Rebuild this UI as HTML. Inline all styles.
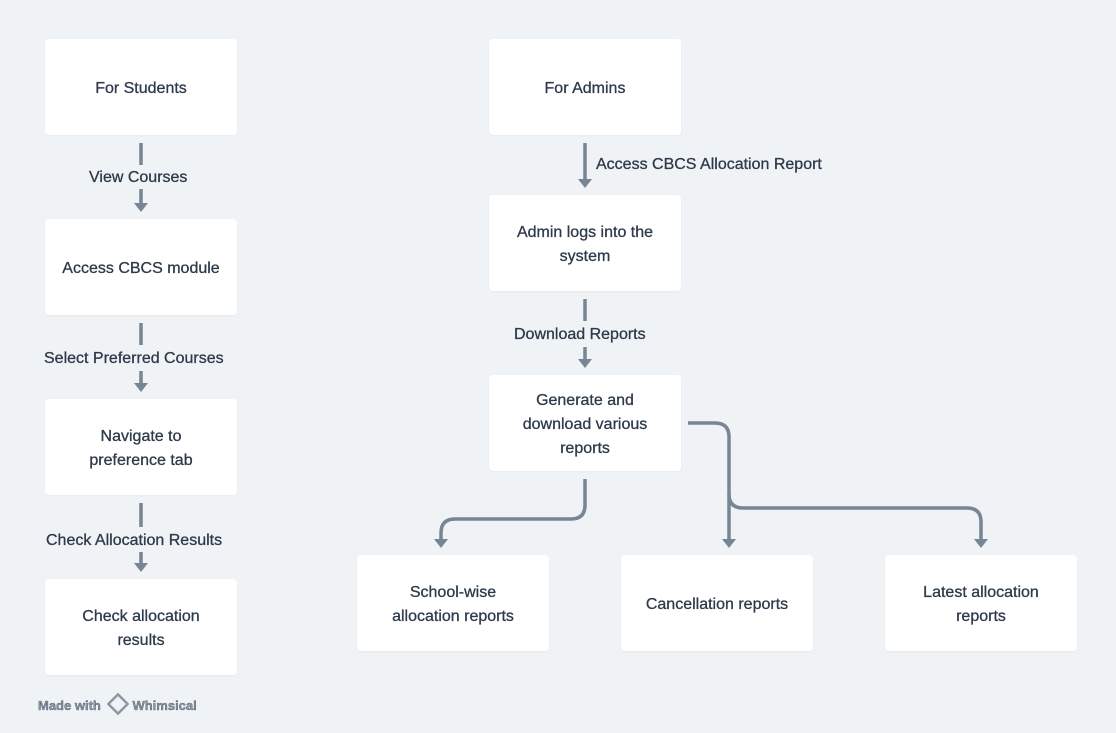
<!DOCTYPE html>
<html><head><style>
body{margin:0;width:1116px;height:733px;background:#f0f3f6;position:relative;overflow:hidden;font-family:"Liberation Sans",sans-serif;}
.b{position:absolute;width:192px;height:96px;padding-top:3px;box-sizing:border-box;background:#fff;border-radius:4px;display:flex;align-items:center;justify-content:center;text-align:center;color:#2d3a4a;font-size:16px;line-height:24px;box-shadow:0 1px 2px rgba(0,0,0,0.04);-webkit-text-stroke:0.3px #2d3a4a;}
.l{position:absolute;color:#2d3a4a;font-size:16px;white-space:nowrap;line-height:20px;-webkit-text-stroke:0.3px #2d3a4a;}
svg{position:absolute;left:0;top:0;}
</style></head><body>
<svg width="1116" height="733" fill="none" stroke="#778595" stroke-width="3.5">
<g stroke-linecap="butt">
<line x1="141" y1="143" x2="141" y2="165"/><line x1="141" y1="189" x2="141" y2="204"/>
<line x1="141" y1="323" x2="141" y2="345"/><line x1="141" y1="371" x2="141" y2="384"/>
<line x1="141" y1="503" x2="141" y2="527"/><line x1="141" y1="552" x2="141" y2="564"/>
<line x1="585" y1="143" x2="585" y2="180"/>
<line x1="585" y1="299" x2="585" y2="321"/><line x1="585" y1="347" x2="585" y2="360"/>
<path d="M585 479 V505 Q585 519 571 519 H455 Q441 519 441 533 V540"/>
<path d="M688 423 H715 Q729 423 729 437 V540"/>
<path d="M729 494 Q729 508 743 508 H967 Q981 508 981 522 V540"/>
</g>
<g fill="#778595" stroke="none">
<path d="M134 203 H148 L141 212Z"/><path d="M134 383 H148 L141 392Z"/><path d="M134 563 H148 L141 572Z"/>
<path d="M578 179 H592 L585 188Z"/><path d="M578 359 H592 L585 368Z"/>
<path d="M434 539 H448 L441 548Z"/><path d="M722 539 H736 L729 548Z"/><path d="M974 539 H988 L981 548Z"/>
</g>
</svg>
<div class="b" style="left:45px;top:39px">For Students</div>
<div class="b" style="left:45px;top:219px">Access CBCS module</div>
<div class="b" style="left:45px;top:399px">Navigate to<br>preference tab</div>
<div class="b" style="left:45px;top:579px">Check allocation<br>results</div>
<div class="b" style="left:489px;top:39px">For Admins</div>
<div class="b" style="left:489px;top:195px">Admin logs into the<br>system</div>
<div class="b" style="left:489px;top:375px">Generate and<br>download various<br>reports</div>
<div class="b" style="left:357px;top:555px">School-wise<br>allocation reports</div>
<div class="b" style="left:621px;top:555px">Cancellation reports</div>
<div class="b" style="left:885px;top:555px">Latest allocation<br>reports</div>
<div class="l" style="left:89px;top:168px">View Courses</div>
<div class="l" style="left:44px;top:349px">Select Preferred Courses</div>
<div class="l" style="left:46px;top:531px">Check Allocation Results</div>
<div class="l" style="left:596px;top:155px">Access CBCS Allocation Report</div>
<div class="l" style="left:514px;top:325px">Download Reports</div>
<div class="l" style="left:38px;top:694px;font-size:13px;color:#8a96a3;font-weight:bold">Made with <span style="display:inline-block;width:14px;height:14px;border:3px solid #8a96a3;transform:rotate(45deg) scale(0.8);vertical-align:-4px;margin:0 4px"></span>Whimsical</div>
</body></html>
